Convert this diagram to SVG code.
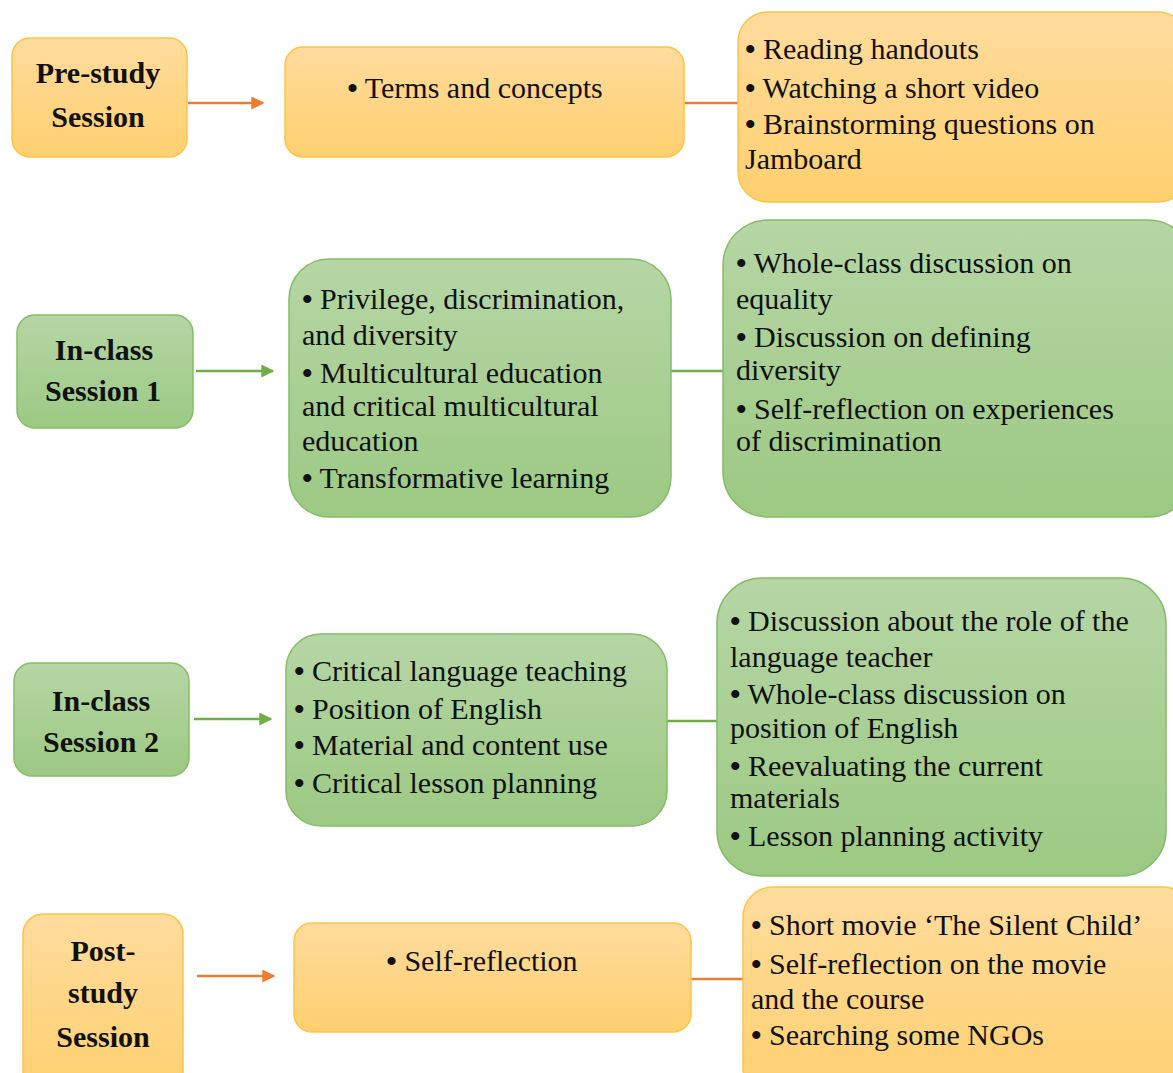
<svg xmlns="http://www.w3.org/2000/svg" width="1173" height="1073" viewBox="0 0 1173 1073">
  <defs>
    <linearGradient id="gOrange" x1="0" y1="0" x2="0" y2="1">
      <stop offset="0" stop-color="#ffdc9e"/>
      <stop offset="1" stop-color="#ffd06f"/>
    </linearGradient>
    <linearGradient id="gGreen" x1="0" y1="0" x2="0" y2="1">
      <stop offset="0" stop-color="#b6d6a5"/>
      <stop offset="1" stop-color="#9cc983"/>
    </linearGradient>
    <marker id="arrOrange" viewBox="0 0 10 10" refX="9" refY="5" markerWidth="13" markerHeight="13" markerUnits="userSpaceOnUse" orient="auto">
      <path d="M0,0 L10,5 L0,10 Z" fill="#ed7d31"/>
    </marker>
    <marker id="arrGreen" viewBox="0 0 10 10" refX="9" refY="5" markerWidth="13" markerHeight="13" markerUnits="userSpaceOnUse" orient="auto">
      <path d="M0,0 L10,5 L0,10 Z" fill="#70ad47"/>
    </marker>
  </defs>
  <style>
    .or { fill: url(#gOrange); stroke: #ffc446; stroke-width: 1.5; }
    .gr { fill: url(#gGreen); stroke: #85bd68; stroke-width: 1.5; }
    .title { font-family: "Liberation Serif", "Times New Roman", serif; font-weight: bold; font-size: 30px; fill: #111; text-anchor: middle; }
    .body { font-family: "Liberation Serif", "Times New Roman", serif; font-size: 30px; fill: #111; }
    .mid { text-anchor: middle; }
    .b { font-weight: bold; }
    .lo { stroke: #ed7d31; stroke-width: 2.5; fill: none; }
    .lg { stroke: #70ad47; stroke-width: 2.5; fill: none; }
  </style>

  <rect width="1173" height="1073" fill="#ffffff"/>

  <!-- connectors -->
  <g id="connectors">
    <line class="lo" x1="188" y1="103" x2="263" y2="103" marker-end="url(#arrOrange)"/>
    <line class="lo" x1="684" y1="103" x2="739" y2="103"/>
    <line class="lg" x1="196" y1="371" x2="273" y2="371" marker-end="url(#arrGreen)"/>
    <line class="lg" x1="671" y1="371" x2="724" y2="371"/>
    <line class="lg" x1="194" y1="719" x2="271" y2="719" marker-end="url(#arrGreen)"/>
    <line class="lg" x1="667" y1="721" x2="718" y2="721"/>
    <line class="lo" x1="197" y1="976" x2="274" y2="976" marker-end="url(#arrOrange)"/>
    <line class="lo" x1="691" y1="979" x2="744" y2="979"/>
  </g>

  <!-- pre-study row -->
  <g id="pre-study">
    <rect class="or" x="12" y="38" width="175" height="119" rx="18"/>
    <text class="title" x="98" y="83">Pre-study</text>
    <text class="title" x="98" y="127">Session</text>
  </g>
  <g id="pre-topics">
    <rect class="or" x="285" y="47" width="399" height="110" rx="18"/>
    <text class="body mid" x="475" y="98"><tspan class="b">•</tspan> Terms and concepts</text>
  </g>
  <g id="pre-activities">
    <rect class="or" x="738" y="12" width="450" height="190" rx="30"/>
    <text class="body" x="745" y="59"><tspan class="b">•</tspan> Reading handouts</text>
    <text class="body" x="745" y="98"><tspan class="b">•</tspan> Watching a short video</text>
    <text class="body" x="745" y="134"><tspan class="b">•</tspan> Brainstorming questions on</text>
    <text class="body" x="745" y="169">Jamboard</text>
  </g>

  <!-- in-class session 1 row -->
  <g id="session-1">
    <rect class="gr" x="17" y="315" width="176" height="113" rx="18"/>
    <text class="title" x="104" y="360">In-class</text>
    <text class="title" x="103" y="401">Session 1</text>
  </g>
  <g id="session-1-topics">
    <rect class="gr" x="289" y="259" width="382" height="258" rx="40"/>
    <text class="body" x="302" y="309"><tspan class="b">•</tspan> Privilege, discrimination,</text>
    <text class="body" x="302" y="345">and diversity</text>
    <text class="body" x="302" y="383"><tspan class="b">•</tspan> Multicultural education</text>
    <text class="body" x="302" y="416">and critical multicultural</text>
    <text class="body" x="302" y="451">education</text>
    <text class="body" x="302" y="488"><tspan class="b">•</tspan> Transformative learning</text>
  </g>
  <g id="session-1-activities">
    <rect class="gr" x="723" y="220" width="470" height="297" rx="45"/>
    <text class="body" x="736" y="273"><tspan class="b">•</tspan> Whole-class discussion on</text>
    <text class="body" x="736" y="309">equality</text>
    <text class="body" x="736" y="347"><tspan class="b">•</tspan> Discussion on defining</text>
    <text class="body" x="736" y="380">diversity</text>
    <text class="body" x="736" y="419"><tspan class="b">•</tspan> Self-reflection on experiences</text>
    <text class="body" x="736" y="451">of discrimination</text>
  </g>

  <!-- in-class session 2 row -->
  <g id="session-2">
    <rect class="gr" x="14" y="663" width="175" height="113" rx="18"/>
    <text class="title" x="101" y="711">In-class</text>
    <text class="title" x="101" y="752">Session 2</text>
  </g>
  <g id="session-2-topics">
    <rect class="gr" x="286" y="634" width="381" height="192" rx="35"/>
    <text class="body" x="294" y="681"><tspan class="b">•</tspan> Critical language teaching</text>
    <text class="body" x="294" y="719"><tspan class="b">•</tspan> Position of English</text>
    <text class="body" x="294" y="755"><tspan class="b">•</tspan> Material and content use</text>
    <text class="body" x="294" y="793"><tspan class="b">•</tspan> Critical lesson planning</text>
  </g>
  <g id="session-2-activities">
    <rect class="gr" x="717" y="578" width="449" height="298" rx="45"/>
    <text class="body" x="730" y="631"><tspan class="b">•</tspan> Discussion about the role of the</text>
    <text class="body" x="730" y="667">language teacher</text>
    <text class="body" x="730" y="704"><tspan class="b">•</tspan> Whole-class discussion on</text>
    <text class="body" x="730" y="738">position of English</text>
    <text class="body" x="730" y="776"><tspan class="b">•</tspan> Reevaluating the current</text>
    <text class="body" x="730" y="808">materials</text>
    <text class="body" x="730" y="846"><tspan class="b">•</tspan> Lesson planning activity</text>
  </g>

  <!-- post-study row -->
  <g id="post-study">
    <rect class="or" x="23" y="914" width="160" height="180" rx="20"/>
    <text class="title" x="103" y="961">Post-</text>
    <text class="title" x="103" y="1003">study</text>
    <text class="title" x="103" y="1047">Session</text>
  </g>
  <g id="post-topics">
    <rect class="or" x="294" y="923" width="397" height="109" rx="18"/>
    <text class="body mid" x="482" y="971"><tspan class="b">•</tspan> Self-reflection</text>
  </g>
  <g id="post-activities">
    <rect class="or" x="743" y="887" width="450" height="210" rx="30"/>
    <text class="body" x="751" y="935"><tspan class="b">•</tspan> Short movie ‘The Silent Child’</text>
    <text class="body" x="751" y="974"><tspan class="b">•</tspan> Self-reflection on the movie</text>
    <text class="body" x="751" y="1009">and the course</text>
    <text class="body" x="751" y="1045"><tspan class="b">•</tspan> Searching some NGOs</text>
  </g>
</svg>
